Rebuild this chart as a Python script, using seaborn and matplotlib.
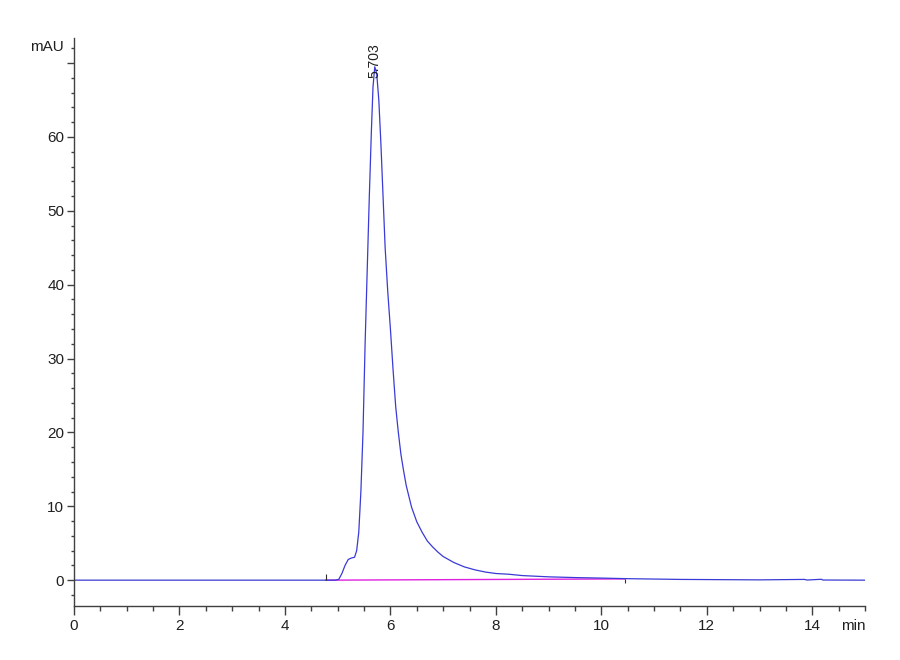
import numpy as np
import pandas as pd
import seaborn as sns
import matplotlib.pyplot as plt
import matplotlib.transforms as mtransforms
from matplotlib.ticker import MultipleLocator

# Chromatogram trace (time in min, signal in mAU)
time_min = [0.0, 4.77, 4.95, 5.02, 5.08, 5.14, 5.20, 5.26, 5.32, 5.36,
            5.40, 5.44, 5.48, 5.52, 5.56, 5.60, 5.64, 5.67, 5.703, 5.74,
            5.78, 5.82, 5.86, 5.90, 5.95, 6.00, 6.05, 6.10, 6.15, 6.20,
            6.25, 6.30, 6.40, 6.50, 6.60, 6.70, 6.80, 6.90, 7.00, 7.20,
            7.40, 7.60, 7.80, 8.00, 8.25, 8.50, 9.00, 9.50, 10.0, 10.5,
            11.0, 11.5, 12.0, 13.0, 13.85, 13.9, 14.17, 14.2, 15.0]
signal_mau = [0.0, 0.0, 0.0, 0.1, 0.9, 2.0, 2.8, 3.0, 3.1, 4.0,
              6.5, 12.0, 20.0, 32.0, 42.0, 52.0, 61.0, 66.8, 69.5, 68.6,
              65.0, 59.0, 52.0, 45.0, 39.0, 34.0, 28.5, 23.5, 20.0, 17.0,
              14.8, 12.8, 9.9, 7.9, 6.5, 5.3, 4.5, 3.8, 3.2, 2.4,
              1.8, 1.4, 1.1, 0.9, 0.8, 0.62, 0.45, 0.35, 0.28, 0.2,
              0.15, 0.1, 0.08, 0.04, 0.1, 0.02, 0.12, 0.02, 0.0]

# integration baseline and event marks
baseline_t = [4.77, 10.45]
baseline_y = [0.0, 0.17]
event_t = [4.77, 10.45]
event_lo = [0.0, -0.35]
event_hi = [0.9, 0.17]

peak_rt = 5.703
peak_label = '5.703'

trace = pd.DataFrame({'t': time_min, 'mau': signal_mau})
base = pd.DataFrame({'t': baseline_t, 'mau': baseline_y})

sns.set_style('white')
plt.rcParams['font.family'] = ['Liberation Sans Narrow', 'Liberation Sans', 'DejaVu Sans']

fig = plt.figure(figsize=(9, 6.6), dpi=100)
ax = fig.add_axes([0.0822, 0.0818, 0.879, 0.8606])

sns.lineplot(data=base, x='t', y='mau', color='#e020e0', linewidth=1.0, ax=ax)
sns.lineplot(data=trace, x='t', y='mau', color='#3a3ad6', linewidth=0.9, ax=ax)
ax.vlines(event_t, event_lo, event_hi, color='#303030', linewidth=0.8)

ax.text(peak_rt, 68.0, peak_label, rotation=90, ha='center', va='bottom',
        fontsize=10, color='#202020', clip_on=False,
        family=['Liberation Sans', 'DejaVu Sans'])

ax.set_xlim(0, 15)
ax.set_ylim(-3.5, 73.4)
ax.set_xlabel('')
ax.set_ylabel('')

ax.set_xticks(np.arange(0, 15, 2))
ax.xaxis.set_minor_locator(MultipleLocator(0.5))
ax.set_yticks(np.arange(0, 71, 10))
ax.set_yticklabels(['0', '10', '20', '30', '40', '50', '60', ''])
ax.yaxis.set_minor_locator(MultipleLocator(2))

ax.tick_params(axis='both', which='major', direction='out', labelsize=11,
               color='#404040', labelcolor='#202020', width=1, bottom=True, left=True)
ax.tick_params(axis='x', which='major', length=6.5, pad=3)
ax.tick_params(axis='x', which='minor', length=3.6, width=1, color='#404040', bottom=True)
ax.tick_params(axis='y', which='major', length=5, pad=2)
ax.tick_params(axis='y', which='minor', length=2.2, width=1, color='#404040', left=True)

sns.despine(ax=ax)
for side in ['left', 'bottom']:
    ax.spines[side].set_color('#404040')
    ax.spines[side].set_linewidth(1)

trans = mtransforms.blended_transform_factory(ax.transAxes, ax.transData)
ax.text(-0.013, 72.2, 'mAU', transform=trans, ha='right', va='center',
        fontsize=11, color='#202020')
trans_x = mtransforms.blended_transform_factory(ax.transData, ax.transAxes)
ax.text(15, -0.022, 'min', transform=trans_x, ha='right', va='top',
        fontsize=11, color='#202020')

fig.savefig('out.png', dpi=100)
